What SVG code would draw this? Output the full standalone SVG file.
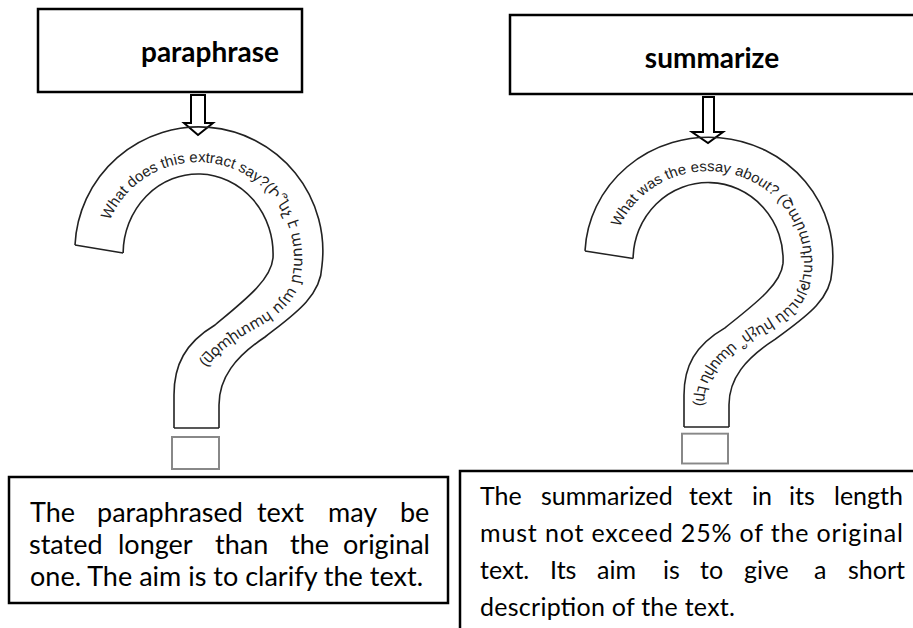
<svg xmlns="http://www.w3.org/2000/svg" xmlns:xlink="http://www.w3.org/1999/xlink" width="913" height="628" viewBox="0 0 913 628">
<style>
.box{fill:#fff;stroke:#000;stroke-width:2.5}
.title{font-family:Lato,"Liberation Sans",sans-serif;font-weight:bold;font-size:28px;fill:#000;text-anchor:middle}
.body{font-family:Lato,"Liberation Sans",sans-serif;font-size:27px;fill:#000}
.body2{font-family:Lato,"Liberation Sans",sans-serif;font-size:25px;fill:#000}
.qm{fill:none;stroke:#222;stroke-width:1.6}
.stub{fill:#fff;stroke:#888;stroke-width:2}
.arc{font-family:"Liberation Sans","DejaVu Sans",sans-serif;font-size:15px;fill:#222}
.arrow{fill:#fff;stroke:#000;stroke-width:2;stroke-linejoin:miter}
</style>
<defs>
<path id="outer" d="M 75,245 A 124 124 0 1 1 321.9,266.3 C 321,297 292,316 265,337 C 235,357 219,378 219,405 L 219,428"/>
<path id="inner" d="M 123.1,253 A 75 80 0 1 1 273,258 C 271,280 245,300 215,325 C 185,343 174,365 174,395 L 174,428"/>
<path id="ends" d="M 75,245 L 123.1,253 M 174,428 L 219,428"/>
<path id="tp" d="M 102.4,249.6 A 96 96 0 1 1 293.1,271.4 C 291,297 272,310 247,324 C 222,338 200,356 190,380 C 186,392 185,405 185,420"/>
</defs>

<g id="paraphrase-box">
<rect class="box" x="38" y="9" width="264" height="83"/>
<text class="title" x="210" y="62">paraphrase</text>
</g>

<g id="summarize-box">
<rect class="box" x="510" y="15" width="410" height="79"/>
<text class="title" x="712" y="68">summarize</text>
</g>

<g id="connectors">
<polygon class="arrow" points="191,95 205,95 205,123 213,123 198,135 184,123 191,123"/>
<polygon class="arrow" points="703,97 714,97 714,132 723,132 708,143 692,132 703,132"/>
</g>

<g id="question-left">
<use href="#outer" class="qm"/>
<use href="#inner" class="qm"/>
<use href="#ends" class="qm"/>
<rect class="stub" x="172" y="437" width="47" height="32"/>
<text class="arc"><textPath href="#tp" startOffset="30">What does this extract say?(Ի՞նչ է ասում այս հատվածը)</textPath></text>
</g>

<g id="question-right" transform="translate(510,15.2) scale(1,0.962)">
<use href="#outer" class="qm"/>
<use href="#inner" class="qm"/>
<use href="#ends" class="qm"/>
<rect class="stub" x="172" y="435" width="46" height="31"/>
<text class="arc"><textPath href="#tp" startOffset="30">What was the essay about? (Շարադրությունն ինչի՞ մասին էր)</textPath></text>
</g>

<g id="paraphrase-note">
<rect class="box" x="9" y="477" width="439" height="126"/>
<text class="body" y="522"><tspan x="30">The</tspan><tspan x="97">paraphrased</tspan><tspan x="257">text</tspan><tspan x="328">may</tspan><tspan x="400">be</tspan></text>
<text class="body" y="554"><tspan x="29">stated</tspan><tspan x="118">longer</tspan><tspan x="215">than</tspan><tspan x="290">the</tspan><tspan x="343">original</tspan></text>
<text class="body" x="30" y="586" textLength="393" lengthAdjust="spacing">one. The aim is to clarify the text.</text>
</g>

<g id="summarize-note">
<path class="box" d="M 460,640 L 460,471 L 920,471"/>
<text class="body2" y="505"><tspan x="480">The</tspan><tspan x="541">summarized</tspan><tspan x="689">text</tspan><tspan x="752">in</tspan><tspan x="789">its</tspan><tspan x="834">length</tspan></text>
<text class="body2" x="480" y="542" textLength="423" lengthAdjust="spacing">must not exceed 25% of the original</text>
<text class="body2" y="579"><tspan x="480">text.</tspan><tspan x="550">Its</tspan><tspan x="597">aim</tspan><tspan x="663">is</tspan><tspan x="700">to</tspan><tspan x="744">give</tspan><tspan x="814">a</tspan><tspan x="848">short</tspan></text>
<text class="body2" x="480" y="616" textLength="255" lengthAdjust="spacing">description of the text.</text>
</g>
</svg>
